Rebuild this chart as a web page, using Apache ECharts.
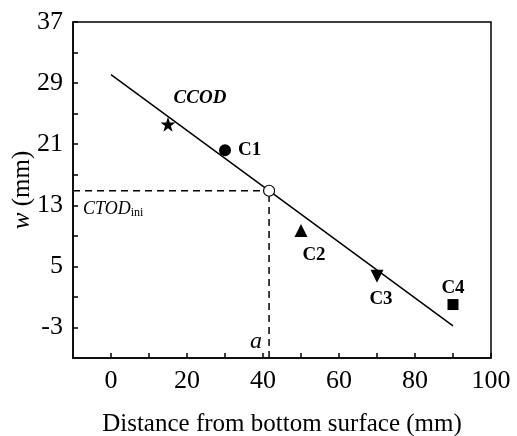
<!DOCTYPE html>
<html lang="en">
<head>
    <meta charset="UTF-8">
    <title>w vs distance</title>
    <script src="https://cdn.jsdelivr.net/npm/echarts@6/dist/echarts.min.js"></script>
    <style>
        html, body { margin: 0; padding: 0; background: #fff; }
        #main { width: 517px; height: 436px; }
    </style>
</head>
<body>
<div id="main"></div>
<script type="text/javascript">
    // measured points (x = distance from bottom surface, y = w)
    var pointNames = ['CCOD', 'C1', 'C2', 'C3', 'C4'];
    var pointX = [15, 30, 50, 70, 90];
    var pointY = [23.6, 20.2, 9.7, 3.7, 0.0];
    // fitted line end points
    var fitX = [0, 90];
    var fitY = [30.1, -2.8];
    // critical point (a, CTODini)
    var critX = 41.6;
    var critY = 14.9;
    // axes
    var xTicks = [0, 10, 20, 30, 40, 50, 60, 70, 80, 90, 100];
    var xLabels = [0, 20, 40, 60, 80, 100];
    var yTicks = [-3, 1, 5, 9, 13, 17, 21, 25, 29, 33, 37];
    var yLabels = [-3, 5, 13, 21, 29, 37];

    var serif = 'Liberation Serif';
    var starPath = 'path://M50,0 L61.8,35.1 L99,35.1 L68.9,57.3 L80.2,92.7 L50,70.8 L19.8,92.7 L31.1,57.3 L1,35.1 L38.2,35.1 Z';

    var myChart = echarts.init(document.getElementById('main'));

    var symbols = [starPath, 'circle', 'triangle', 'triangle', 'rect'];
    var sizes = [15, 12, 13, 13, 11];
    var rotates = [0, 0, 0, 180, 0];
    var labelPos = [
        { position: 'top', offset: [32, -4], fontStyle: 'italic' },
        { position: 'right', offset: [2, 0] },
        { position: 'bottom', offset: [13, 4] },
        { position: 'bottom', offset: [4, 2] },
        { position: 'top', offset: [0, 4] }
    ];

    var pointSeries = pointNames.map(function (name, i) {
        return {
            name: name,
            type: 'scatter',
            symbol: symbols[i],
            symbolSize: sizes[i],
            symbolRotate: rotates[i],
            itemStyle: { color: '#000', opacity: 1 },
            label: {
                show: true,
                formatter: name,
                position: labelPos[i].position,
                offset: labelPos[i].offset,
                fontFamily: serif,
                fontWeight: 'bold',
                fontStyle: labelPos[i].fontStyle || 'normal',
                fontSize: 19,
                color: '#000'
            },
            z: 5,
            data: [[pointX[i], pointY[i]]]
        };
    });

    myChart.setOption({
        animation: false,
        grid: {
            left: 73, top: 22, right: 26, bottom: 78,
            outerBoundsMode: 'none',
            containLabel: false,
            show: true, borderColor: '#000', borderWidth: 1.5
        },
        xAxis: {
            type: 'value',
            min: -10,
            max: 100,
            name: 'Distance from bottom surface (mm)',
            nameLocation: 'middle',
            nameGap: 54,
            nameMoveOverlap: false,
            nameTextStyle: { fontFamily: serif, fontSize: 25, color: '#000' },
            axisLine: { show: true, onZero: false, lineStyle: { color: '#000', width: 1.5 } },
            axisTick: { show: true, inside: true, length: 5, customValues: xTicks, lineStyle: { color: '#000', width: 1.5 } },
            axisLabel: { customValues: xLabels, fontFamily: serif, fontSize: 26, color: '#000', margin: 10 },
            splitLine: { show: false }
        },
        yAxis: {
            type: 'value',
            min: -7,
            max: 37,
            name: '{i|w} (mm)',
            nameLocation: 'middle',
            nameGap: 38,
            nameMoveOverlap: false,
            nameTextStyle: {
                fontFamily: serif, fontSize: 25, color: '#000',
                rich: { i: { fontFamily: serif, fontSize: 25, fontStyle: 'italic', color: '#000' } }
            },
            axisLine: { show: true, onZero: false, lineStyle: { color: '#000', width: 1.5 } },
            axisTick: { show: true, inside: true, length: 5, customValues: yTicks, lineStyle: { color: '#000', width: 1.5 } },
            axisLabel: { customValues: yLabels, fontFamily: serif, fontSize: 26, color: '#000', margin: 10 },
            splitLine: { show: false }
        },
        series: [
            {
                name: 'fit',
                type: 'line',
                symbol: 'none',
                lineStyle: { color: '#000', width: 1.5 },
                data: fitX.map(function (x, i) { return [x, fitY[i]]; }),
                z: 3
            },
            {
                name: 'CTODini',
                type: 'line',
                symbol: 'circle',
                symbolSize: 0,
                showSymbol: true,
                lineStyle: { color: '#000', width: 1.5, type: [7, 5] },
                data: [
                    { value: [-10, critY], label: {
                        show: true, position: 'bottom', align: 'left', offset: [10, 4],
                        formatter: '{a|CTOD}{b|ini}',
                        rich: {
                            a: { fontFamily: serif, fontStyle: 'italic', fontSize: 18, color: '#000' },
                            b: { fontFamily: serif, fontSize: 12, color: '#000', verticalAlign: 'bottom', padding: [7, 0, 0, 0] }
                        }
                    } },
                    [critX, critY]
                ],
                z: 2
            },
            {
                name: 'a',
                type: 'line',
                symbol: 'circle',
                symbolSize: 0,
                showSymbol: true,
                lineStyle: { color: '#000', width: 1.5, type: [7, 5] },
                data: [
                    { value: [critX, -7], label: {
                        show: true, position: 'left', offset: [-2, -16],
                        formatter: 'a',
                        fontFamily: serif, fontStyle: 'italic', fontSize: 24, color: '#000'
                    } },
                    [critX, critY]
                ],
                z: 2
            },
            {
                name: 'critical',
                type: 'scatter',
                symbol: 'circle',
                symbolSize: 11,
                itemStyle: { color: '#fff', borderColor: '#000', borderWidth: 1.2, opacity: 1 },
                data: [[critX, critY]],
                z: 6
            }
        ].concat(pointSeries)
    });
</script>
</body>
</html>
